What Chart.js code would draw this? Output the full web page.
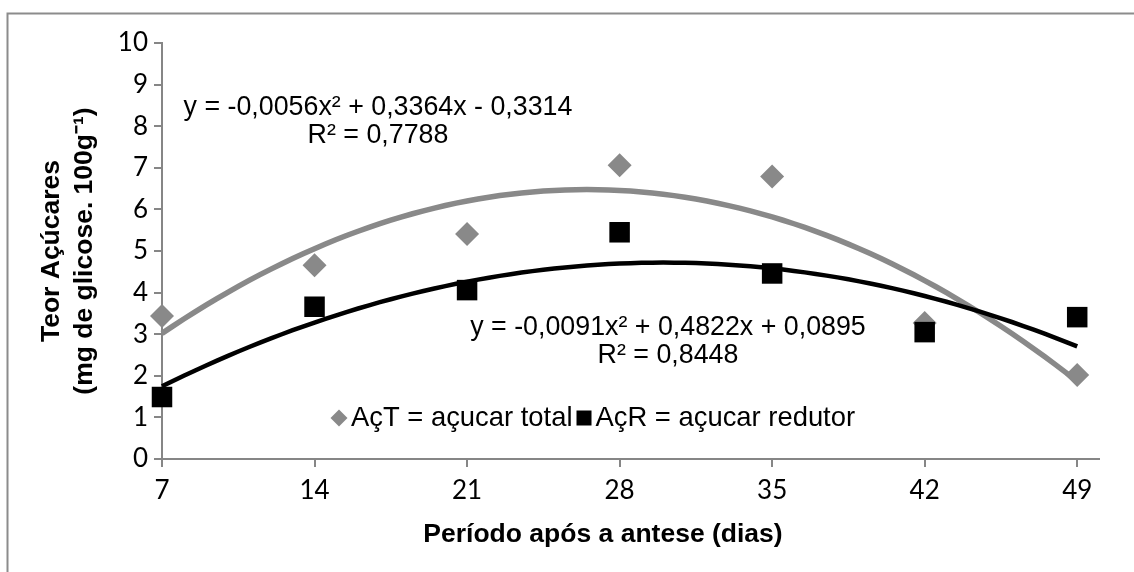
<!DOCTYPE html>
<html>
<head>
<meta charset="utf-8">
<script src="https://cdn.jsdelivr.net/npm/chart.js@4.4.0/dist/chart.umd.min.js"></script>
<style>
  html, body { margin: 0; padding: 0; background: #fff; }
</style>
</head>
<body>
<canvas id="acucares" width="1134" height="572"></canvas>
<script>
const dias = [7, 14, 21, 28, 35, 42, 49];
const acucar_total = [3.44, 4.66, 5.41, 7.06, 6.79, 3.27, 2.02];
const acucar_redutor = [1.49, 3.66, 4.06, 5.45, 4.46, 3.05, 3.41];
// trendline coefficients [a, b, c] for y = a*x^2 + b*x + c
const coef_total = [-0.0091, 0.4822, 0.0895];
const coef_redutor = [-0.0056, 0.3364, -0.3314];
const eq_total = ['y = -0,0091x² + 0,4822x + 0,0895', 'R² = 0,8448'];
const eq_redutor = ['y = -0,0056x² + 0,3364x - 0,3314', 'R² = 0,7788'];
const legend_labels = ['AçT = açucar total', 'AçR = açucar redutor'];
const x_title = 'Período após a antese (dias)';

const gray = '#898989';
const axis_color = '#868686';
const font_eq = '26.8px "Liberation Sans", Arial, sans-serif';
const font_leg = '27.4px "Liberation Sans", Arial, sans-serif';
const font_title = 'bold 26.5px "Liberation Sans", Arial, sans-serif';

function trend(c) {
  const pts = [];
  for (let x = dias[0]; x <= dias[dias.length - 1]; x += 0.5) {
    pts.push({x: x, y: c[0] * x * x + c[1] * x + c[2]});
  }
  return pts;
}

function points(values) {
  return dias.map((d, i) => ({x: d, y: values[i]}));
}

// outer frame, x title, equation boxes and the in-plot legend
const extras = {
  id: 'extras',
  beforeDraw(chart) {
    const ctx = chart.ctx;
    ctx.save();
    ctx.strokeStyle = '#8c8c8c';
    ctx.lineWidth = 2;
    ctx.beginPath();
    ctx.moveTo(7.5, 572);
    ctx.lineTo(7.5, 13.5);
    ctx.lineTo(1134, 13.5);
    ctx.stroke();
    ctx.restore();
  },
  afterDraw(chart) {
    const ctx = chart.ctx;
    ctx.save();
    ctx.fillStyle = '#000';
    ctx.textAlign = 'center';
    ctx.textBaseline = 'middle';
    ctx.font = font_title;
    ctx.fillText(x_title, 603, 535);

    ctx.font = font_eq;
    ctx.fillText(eq_redutor[0], 378, 108);
    ctx.fillText(eq_redutor[1], 378, 136);
    ctx.fillText(eq_total[0], 668, 328);
    ctx.fillText(eq_total[1], 668, 356);

    // legend
    ctx.font = font_leg;
    const ly = 418;
    let lx = 339;
    ctx.fillStyle = gray;
    ctx.beginPath();
    ctx.moveTo(lx, ly - 8.5);
    ctx.lineTo(lx + 8.5, ly);
    ctx.lineTo(lx, ly + 8.5);
    ctx.lineTo(lx - 8.5, ly);
    ctx.closePath();
    ctx.fill();
    ctx.textAlign = 'left';
    ctx.fillStyle = '#000';
    lx += 12;
    ctx.fillText(legend_labels[0], lx, ly);
    lx += ctx.measureText(legend_labels[0]).width + 4;
    ctx.fillRect(lx, ly - 7.5, 15, 15);
    lx += 19;
    ctx.fillText(legend_labels[1], lx, ly);
    ctx.restore();
  }
};

new Chart(document.getElementById('acucares'), {
  type: 'scatter',
  data: {
    datasets: [
      {
        label: 'AçR',
        data: points(acucar_redutor),
        pointStyle: 'rect',
        pointRadius: 14.5,
        backgroundColor: '#000',
        borderColor: '#000',
        borderWidth: 0,
        clip: false
      },
      {
        label: 'AçT',
        data: points(acucar_total),
        pointStyle: 'rectRot',
        pointRadius: 12,
        backgroundColor: gray,
        borderColor: gray,
        borderWidth: 0,
        clip: false
      },
      {
        type: 'line',
        label: 'AçR trend',
        data: trend(coef_redutor),
        borderColor: '#000',
        borderWidth: 4.5,
        pointRadius: 0,
        fill: false,
        clip: false
      },
      {
        type: 'line',
        label: 'AçT trend',
        data: trend(coef_total),
        borderColor: gray,
        borderWidth: 5.5,
        pointRadius: 0,
        fill: false,
        clip: false
      }
    ]
  },
  options: {
    responsive: false,
    animation: false,
    devicePixelRatio: 1,
    layout: {
      padding: {left: 8, top: 43, right: 35, bottom: 0}
    },
    plugins: {
      legend: {display: false},
      tooltip: {enabled: false}
    },
    scales: {
      x: {
        type: 'linear',
        min: 7,
        max: 50,
        afterBuildTicks: s => { s.ticks = dias.map(v => ({value: v})); },
        afterFit: s => { s.height = 113; },
        border: {color: axis_color, width: 2},
        grid: {drawOnChartArea: false, drawTicks: true, tickLength: 8, color: axis_color, lineWidth: 2},
        ticks: {
          font: {family: 'Lato', size: 26},
          color: '#000',
          padding: 8,
          maxRotation: 0
        }
      },
      y: {
        min: 0,
        max: 10,
        afterFit: s => { s.width = 154; },
        border: {color: axis_color, width: 2},
        grid: {drawOnChartArea: false, drawTicks: true, tickLength: 8, color: axis_color, lineWidth: 2},
        ticks: {
          stepSize: 1,
          font: {family: 'Lato', size: 26},
          color: '#000',
          padding: 6
        },
        title: {
          display: true,
          text: ['Teor Açúcares', '(mg de glicose. 100g⁻¹)'],
          color: '#000',
          font: {family: 'Liberation Sans', size: 26.5, weight: 'bold', lineHeight: 1.25},
          padding: {top: 27, bottom: 0}
        }
      }
    }
  },
  plugins: [extras]
});
</script>
</body>
</html>
